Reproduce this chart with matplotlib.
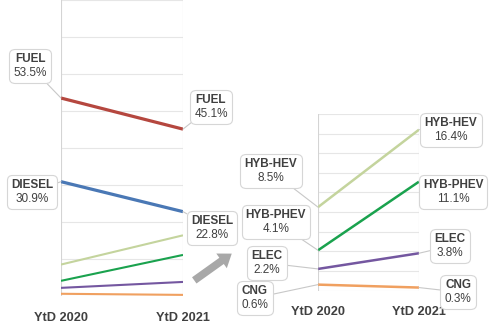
import numpy as np
import matplotlib
matplotlib.use("Agg")
import matplotlib.pyplot as plt
from matplotlib.offsetbox import AnnotationBbox, TextArea, VPacker
from matplotlib.patches import FancyArrowPatch

plt.rcParams['font.family'] = ['Liberation Sans', 'DejaVu Sans']

# market share by fuel type, YtD
periods = ['YtD 2020', 'YtD 2021']
fuels = ['FUEL', 'DIESEL', 'HYB-HEV', 'HYB-PHEV', 'ELEC', 'CNG']
share_2020 = [53.5, 30.9, 8.5, 4.1, 2.2, 0.6]
share_2021 = [45.1, 22.8, 16.4, 11.1, 3.8, 0.3]
colors = ['#B5473F', '#4A78B5', '#C4D49D', '#1AA24E', '#7457A0', '#F0A060']

TXT = '#404040'
W, H = 500, 326

fig = plt.figure(figsize=(W / 100, H / 100), dpi=100)
ax1 = fig.add_axes([61 / W, 1 - 296 / H, 122 / W, 296 / H])
ax2 = fig.add_axes([318 / W, 1 - 290.5 / H, 101 / W, 176.5 / H])


def setup(ax, ymax, step):
    ax.set_xlim(0, 1)
    ax.set_ylim(0, ymax)
    for y in np.arange(0, ymax + step / 2, step):
        ax.axhline(y, color='#E6E6E6', lw=0.8, zorder=0)
    ax.axvline(0, color='#D4D4D4', lw=0.8, zorder=0)
    ax.axvline(1, color='#D4D4D4', lw=0.8, zorder=0)
    for s in ax.spines.values():
        s.set_visible(False)
    ax.set_yticks([])
    ax.set_xticks([0, 1], periods, fontsize=9.2, fontweight='bold', color=TXT)
    ax.tick_params(axis='x', length=0, pad=11.5)


setup(ax1, 80, 10)
setup(ax2, 18, 2)

# all fuels on the full scale
for i, name in enumerate(fuels):
    lw = 2.3 if i < 2 else 1.5
    ax1.plot([0, 1], [share_2020[i], share_2021[i]], color=colors[i], lw=lw,
             solid_capstyle='butt')

# zoom on the small segments
for i in range(2, len(fuels)):
    ax2.plot([0, 1], [share_2020[i], share_2021[i]], color=colors[i], lw=1.8,
             solid_capstyle='butt')


def callout(ax, x, v, name, pos):
    pack = VPacker(children=[
        TextArea(name, textprops=dict(fontsize=8.5, fontweight='bold', color=TXT)),
        TextArea(f'{v}%', textprops=dict(fontsize=8.5, color=TXT)),
    ], align='center', pad=0, sep=1.5)
    ab = AnnotationBbox(pack, (x, v), xycoords=ax.transData,
                        xybox=(pos[0], H - pos[1]), boxcoords='figure pixels',
                        annotation_clip=False, zorder=5,
                        bboxprops=dict(boxstyle='round,pad=0.3,rounding_size=0.4',
                                       fc='white', ec='#D6D6D6', lw=0.8),
                        arrowprops=dict(arrowstyle='-', color='#C8C8C8', lw=0.8,
                                        shrinkA=0, shrinkB=0))
    fig.add_artist(ab)


# label centres in pixels from the top-left corner
left_pos = {'FUEL': [(30, 66), (211, 107)],
            'DIESEL': [(32, 192), (212, 228)]}
right_pos = {'HYB-HEV': [(271, 171), (451, 130)],
             'HYB-PHEV': [(276, 222), (453, 192)],
             'ELEC': [(267, 263), (450, 246)],
             'CNG': [(255, 298), (458, 292)]}

for i, name in enumerate(fuels):
    ax, pos = (ax1, left_pos[name]) if name in left_pos else (ax2, right_pos[name])
    callout(ax, 0, share_2020[i], name, pos[0])
    callout(ax, 1, share_2021[i], name, pos[1])

# arrow pointing to the zoomed panel
arrow = FancyArrowPatch((192 / W, 1 - 282 / H), (234 / W, 1 - 252 / H),
                        transform=fig.transFigure, mutation_scale=10,
                        arrowstyle='simple,head_width=1.3,head_length=0.9,tail_width=0.55',
                        color='#A8A8A8', lw=0)
fig.add_artist(arrow)

fig.savefig('out.png', dpi=100)
